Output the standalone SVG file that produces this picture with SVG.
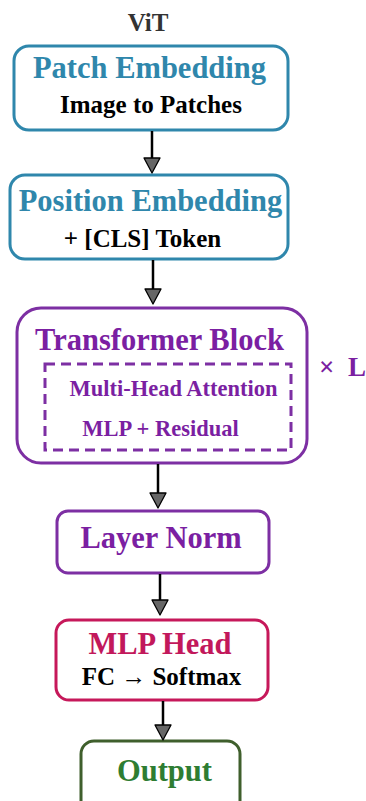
<svg xmlns="http://www.w3.org/2000/svg" width="366" height="801" viewBox="0 0 366 801">
<style>
text{font-family:'Liberation Serif','Times New Roman','DejaVu Serif',serif;font-weight:700;text-anchor:middle}
.box{fill:#fff;stroke-width:3}
.blue{stroke:#2f87ac}
.purple{stroke:#7d2fa3}
.red{stroke:#c6185a}
.green{stroke:#3f5f2c}
.tb{fill:#2f87ac;font-size:30.5px}
.tp{fill:#7b1fa2}
.sub{fill:#000;font-size:25px}
.conn{stroke:#000;stroke-width:2.5;fill:none}
.head{fill:#666;stroke:#000;stroke-width:1.3;stroke-linejoin:round}
</style>
<rect width="366" height="801" fill="#fff"/>
<text x="148" y="31" font-size="25" fill="#333">ViT</text>
<g id="patch">
<rect class="box blue" x="14" y="46" width="274" height="84" rx="15"/>
<text class="tb" x="149.5" y="78">Patch Embedding</text>
<text class="sub" x="151" y="113">Image to Patches</text>
</g>
<g id="position">
<rect class="box blue" x="10" y="175" width="278" height="84" rx="15"/>
<text class="tb" x="150.5" y="211">Position Embedding</text>
<text class="sub" x="142.5" y="247">+ [CLS] Token</text>
</g>
<g id="transformer">
<rect class="box purple" x="17" y="308" width="290" height="155" rx="24"/>
<text class="tp" x="159.5" y="350" font-size="30.5">Transformer Block</text>
<rect x="45" y="364" width="246" height="86" fill="none" stroke="#7d2fa3" stroke-width="3" stroke-dasharray="10,6"/>
<text class="tp" x="173.5" y="396" font-size="22.5">Multi-Head Attention</text>
<text class="tp" x="160.5" y="436" font-size="22.5">MLP + Residual</text>
<text class="tp" x="319" y="376" font-size="27" style="text-anchor:start">×<tspan x="348">L</tspan></text>
</g>
<g id="layernorm">
<rect class="box purple" x="57" y="511" width="212" height="62" rx="11"/>
<text class="tp" x="161" y="548" font-size="30.5">Layer Norm</text>
</g>
<g id="mlphead">
<rect class="box red" x="56" y="620" width="212" height="80" rx="13"/>
<text x="160" y="654" font-size="30.5" fill="#c2185b">MLP Head</text>
<text class="sub" x="161.5" y="685">FC → Softmax</text>
</g>
<g id="output">
<rect class="box green" x="81" y="741" width="159" height="80" rx="13"/>
<text x="164.5" y="781" font-size="30.5" fill="#2e7d32">Output</text>
</g>
<g id="connectors">
<line class="conn" x1="152" y1="131" x2="152" y2="160"/>
<polygon class="head" points="144,158 160,158 152,173"/>
<line class="conn" x1="153" y1="260" x2="153" y2="291"/>
<polygon class="head" points="145,289 161,289 153,304"/>
<line class="conn" x1="158" y1="464" x2="158" y2="495"/>
<polygon class="head" points="150,493 166,493 158,508"/>
<line class="conn" x1="160" y1="574" x2="160" y2="602"/>
<polygon class="head" points="152,600 168,600 160,615"/>
<line class="conn" x1="163" y1="701" x2="163" y2="727"/>
<polygon class="head" points="155,725 171,725 163,740"/>
</g>
</svg>
